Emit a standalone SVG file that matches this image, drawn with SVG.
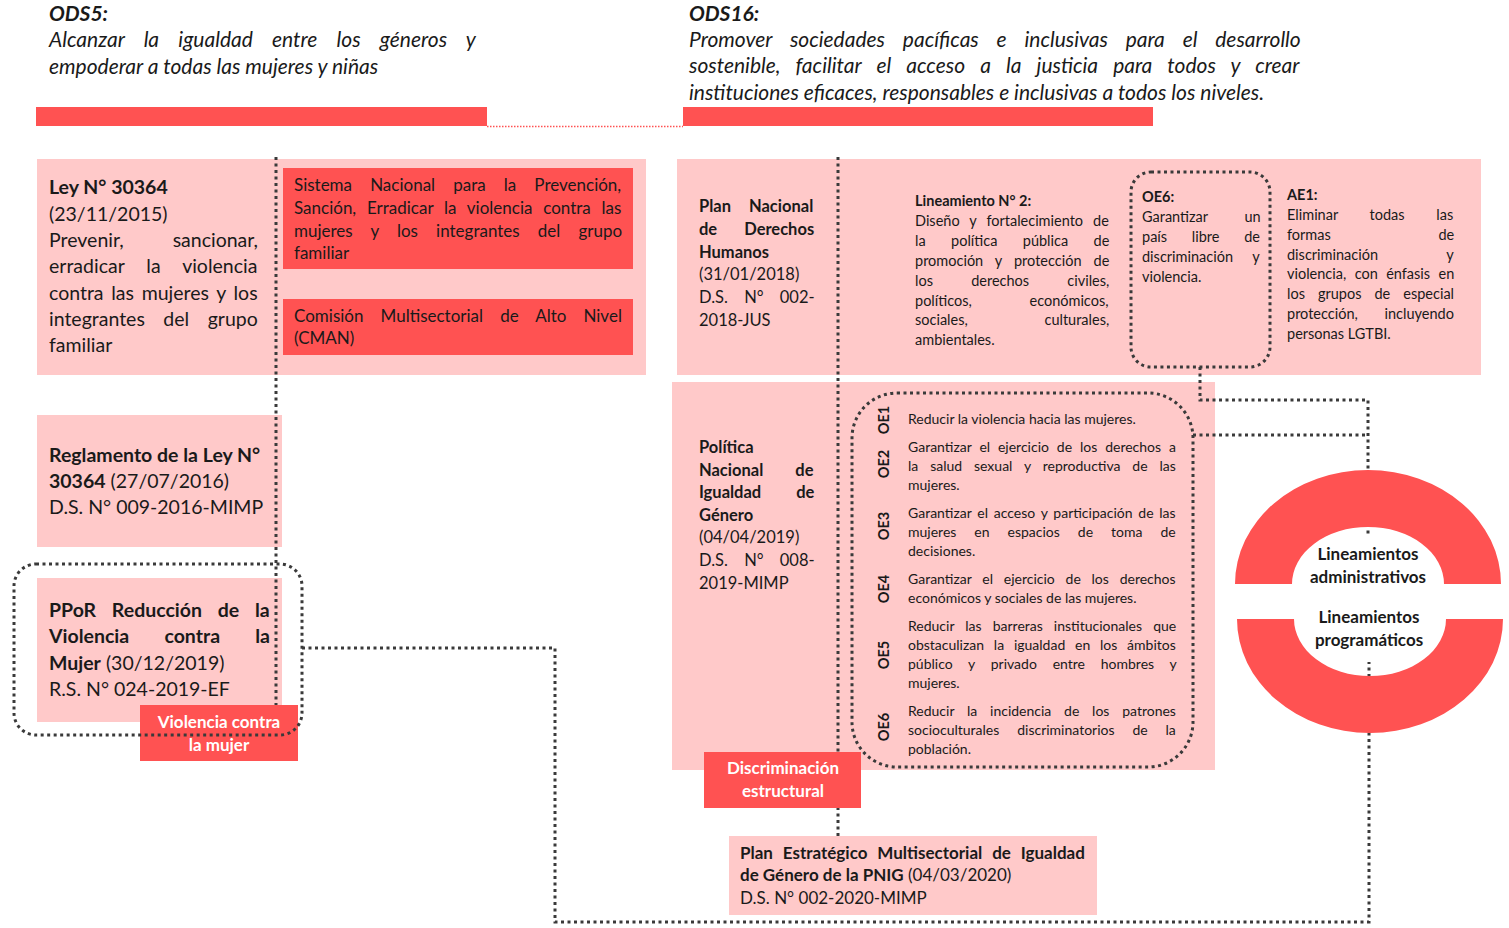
<svg xmlns="http://www.w3.org/2000/svg" width="1509" height="928" viewBox="0 0 1509 928">
<style>
text{font-family:Lato,"Open Sans","Liberation Sans",sans-serif;fill:#1a1a1a}
.b{font-weight:bold}
.h{font-size:21px;font-style:italic}
.f19{font-size:19.5px}
.f17{font-size:17px}
.f165{font-size:16.5px}
.f145{font-size:14.5px}
.f135{font-size:14px}
.lbl{font-size:17px;font-weight:bold;fill:#fff;text-anchor:middle}
.ring{font-size:17px;font-weight:bold;text-anchor:middle}
.pink{fill:#FFC9C9}
.red{fill:#FF5252}
.dot{fill:none;stroke:#3a3a3a;stroke-width:3;stroke-dasharray:3 3.5}
</style>
<g id="ods5">
<rect class="red" x="36" y="107" width="451" height="19"/>
<text class="h b" x="49" y="21">ODS5:</text>
<text class="h" x="49" y="47" word-spacing="14.3">Alcanzar la igualdad entre los géneros y</text>
<text class="h" x="49" y="74">empoderar a todas las mujeres y niñas</text>
</g>
<g id="ods16">
<rect class="red" x="683" y="107" width="470" height="19"/>
<text class="h b" x="689" y="21">ODS16:</text>
<text class="h" x="689" y="47" word-spacing="12.9">Promover sociedades pacíficas e inclusivas para el desarrollo</text>
<text class="h" x="689" y="73" word-spacing="10.2">sostenible, facilitar el acceso a la justicia para todos y crear</text>
<text class="h" x="689" y="100">instituciones eficaces, responsables e inclusivas a todos los niveles.</text>
</g>
<g id="ley30364">
<rect class="pink" x="37" y="159" width="609" height="216"/>
<text class="f19 b" x="49" y="194">Ley N° 30364</text>
<text class="f19" x="49" y="221">(23/11/2015)</text>
<text class="f19" x="49" y="247" word-spacing="44">Prevenir, sancionar,</text>
<text class="f19" x="49" y="273" word-spacing="17">erradicar la violencia</text>
<text class="f19" x="49" y="300" word-spacing="2.7">contra las mujeres y los</text>
<text class="f19" x="49" y="326" word-spacing="13.5">integrantes del grupo</text>
<text class="f19" x="49" y="352">familiar</text>
</g>
<g id="plan-ddhh">
<rect class="pink" x="677" y="159" width="804" height="216"/>
<text class="f165 b" x="699" y="212" word-spacing="14">Plan Nacional</text>
<text class="f165 b" x="699" y="235" word-spacing="23">de Derechos</text>
<text class="f165 b" x="699" y="258">Humanos</text>
<text class="f165" x="699" y="280">(31/01/2018)</text>
<text class="f165" x="699" y="303" word-spacing="12">D.S. N° 002-</text>
<text class="f165" x="699" y="326">2018-JUS</text>
</g>
<g id="lineamiento2">
<text class="f145 b" x="915" y="206">Lineamiento N° 2:</text>
<text class="f145" x="915" y="226" word-spacing="6.3">Diseño y fortalecimiento de</text>
<text class="f145" x="915" y="246" word-spacing="21.7">la política pública de</text>
<text class="f145" x="915" y="266" word-spacing="8.3">promoción y protección de</text>
<text class="f145" x="915" y="286" word-spacing="34.5">los derechos civiles,</text>
<text class="f145" x="915" y="306" word-spacing="54">políticos, económicos,</text>
<text class="f145" x="915" y="325" word-spacing="73">sociales, culturales,</text>
<text class="f145" x="915" y="345">ambientales.</text>
</g>
<g id="ae1">
<text class="f145 b" x="1287" y="200">AE1:</text>
<text class="f145" x="1287" y="220" word-spacing="28">Eliminar todas las</text>
<text class="f145" x="1287" y="240" word-spacing="104">formas de</text>
<text class="f145" x="1287" y="260" word-spacing="65">discriminación y</text>
<text class="f145" x="1287" y="279" word-spacing="4.7">violencia, con énfasis en</text>
<text class="f145" x="1287" y="299" word-spacing="9.3">los grupos de especial</text>
<text class="f145" x="1287" y="319" word-spacing="23">protección, incluyendo</text>
<text class="f145" x="1287" y="339">personas LGTBI.</text>
</g>
<g id="reglamento">
<rect class="pink" x="37" y="415" width="245" height="132"/>
<text class="f19 b" x="49" y="462">Reglamento de la Ley N°</text>
<text class="f19" x="49" y="488"><tspan class="b">30364</tspan> (27/07/2016)</text>
<text class="f19" x="49" y="514">D.S. N° 009-2016-MIMP</text>
</g>
<g id="ppor">
<rect class="pink" x="37" y="578" width="245" height="144"/>
<text class="f19 b" x="49" y="617" word-spacing="11">PPoR Reducción de la</text>
<text class="f19 b" x="49" y="643" word-spacing="30.5">Violencia contra la</text>
<text class="f19" x="49" y="670"><tspan class="b">Mujer</tspan> (30/12/2019)</text>
<text class="f19" x="49" y="696">R.S. N° 024-2019-EF</text>
</g>
<g id="politica">
<rect class="pink" x="672" y="382" width="543" height="388"/>
<text class="f165 b" x="699" y="453">Política</text>
<text class="f165 b" x="699" y="476" word-spacing="28">Nacional de</text>
<text class="f165 b" x="699" y="498" word-spacing="31">Igualdad de</text>
<text class="f165 b" x="699" y="521">Género</text>
<text class="f165" x="699" y="543">(04/04/2019)</text>
<text class="f165" x="699" y="566" word-spacing="12">D.S. N° 008-</text>
<text class="f165" x="699" y="589">2019-MIMP</text>
</g>
<g id="objetivos">
<text class="f145 b" transform="translate(889,420) rotate(-90)" text-anchor="middle">OE1</text>
<text class="f145 b" transform="translate(889,464) rotate(-90)" text-anchor="middle">OE2</text>
<text class="f145 b" transform="translate(889,526) rotate(-90)" text-anchor="middle">OE3</text>
<text class="f145 b" transform="translate(889,589) rotate(-90)" text-anchor="middle">OE4</text>
<text class="f145 b" transform="translate(889,655) rotate(-90)" text-anchor="middle">OE5</text>
<text class="f145 b" transform="translate(889,727) rotate(-90)" text-anchor="middle">OE6</text>
<text class="f135" x="908" y="424">Reducir la violencia hacia las mujeres.</text>
<text class="f135" x="908" y="452" word-spacing="4.3">Garantizar el ejercicio de los derechos a</text>
<text class="f135" x="908" y="471" word-spacing="8.3">la salud sexual y reproductiva de las</text>
<text class="f135" x="908" y="490">mujeres.</text>
<text class="f135" x="908" y="518" word-spacing="2.2">Garantizar el acceso y participación de las</text>
<text class="f135" x="908" y="537" word-spacing="14.4">mujeres en espacios de toma de</text>
<text class="f135" x="908" y="556">decisiones.</text>
<text class="f135" x="908" y="584" word-spacing="7.2">Garantizar el ejercicio de los derechos</text>
<text class="f135" x="908" y="603">económicos y sociales de las mujeres.</text>
<text class="f135" x="908" y="631" word-spacing="7.5">Reducir las barreras institucionales que</text>
<text class="f135" x="908" y="650" word-spacing="6.2">obstaculizan la igualdad en los ámbitos</text>
<text class="f135" x="908" y="669" word-spacing="12.2">público y privado entre hombres y</text>
<text class="f135" x="908" y="688">mujeres.</text>
<text class="f135" x="908" y="716" word-spacing="9.2">Reducir la incidencia de los patrones</text>
<text class="f135" x="908" y="735" word-spacing="14.3">socioculturales discriminatorios de la</text>
<text class="f135" x="908" y="754">población.</text>
</g>
<g id="plan-estrategico">
<rect class="pink" x="729" y="836" width="368" height="79"/>
<text class="f17 b" x="740" y="859" word-spacing="5.75">Plan Estratégico Multisectorial de Igualdad</text>
<text class="f17" x="740" y="881"><tspan class="b">de Género de la PNIG</tspan> (04/03/2020)</text>
<text class="f17" x="740" y="904">D.S. N° 002-2020-MIMP</text>
</g>
<g id="connectors">
<path d="M487,126.5 H683" fill="none" stroke="#FF5252" stroke-width="1.5" stroke-dasharray="1.5 1.5"/>
<path class="dot" d="M276,157 V706"/>
<path class="dot" d="M838,157 V836"/>
<path class="dot" d="M1200,367 V400 H1368 V536"/>
<path class="dot" d="M1193,435 H1368"/>
<path class="dot" d="M302,648 H555 V922 H1369 V662"/>
<rect class="dot" x="1131" y="172" width="139" height="195" rx="20"/>
<rect class="dot" x="852" y="393" width="341" height="374" rx="45"/>
</g>
<g id="sistema-nacional">
<rect class="red" x="283" y="168" width="350" height="101"/>
<text class="f17" x="294" y="191" word-spacing="13.75">Sistema Nacional para la Prevención,</text>
<text class="f17" x="294" y="214" word-spacing="6.4">Sanción, Erradicar la violencia contra las</text>
<text class="f17" x="294" y="237" word-spacing="13.8">mujeres y los integrantes del grupo</text>
<text class="f17" x="294" y="259">familiar</text>
</g>
<g id="cman">
<rect class="red" x="283" y="299" width="350" height="56"/>
<text class="f17" x="294" y="322" word-spacing="12.75">Comisión Multisectorial de Alto Nivel</text>
<text class="f17" x="294" y="344">(CMAN)</text>
</g>
<g id="oe6">
<text class="f145 b" x="1142" y="202">OE6:</text>
<text class="f145" x="1142" y="222" word-spacing="33">Garantizar un</text>
<text class="f145" x="1142" y="242" word-spacing="21">país libre de</text>
<text class="f145" x="1142" y="262" word-spacing="16">discriminación y</text>
<text class="f145" x="1142" y="282">violencia.</text>
</g>
<g id="violencia-label">
<rect class="red" x="140" y="705" width="158" height="56"/>
<text class="lbl" x="219" y="728">Violencia contra</text>
<text class="lbl" x="219" y="751">la mujer</text>
</g>
<g id="ppor-group">
<rect class="dot" x="14" y="564" width="288" height="171" rx="22"/>
</g>
<g id="discriminacion-label">
<rect class="red" x="704" y="752" width="157" height="56"/>
<text class="lbl" x="783" y="774">Discriminación</text>
<text class="lbl" x="783" y="797">estructural</text>
</g>
<g id="lineamientos-ring">
<path class="red" d="M1235,584 A133,114 0 0 1 1501,584 L1444,584 A76,57 0 0 0 1292,584 Z"/>
<path class="red" d="M1237,619 A133,114 0 0 0 1503,619 L1446,619 A76,57 0 0 1 1294,619 Z"/>
<text class="ring" x="1368" y="560">Lineamientos</text>
<text class="ring" x="1368" y="583">administrativos</text>
<text class="ring" x="1369" y="623">Lineamientos</text>
<text class="ring" x="1369" y="646">programáticos</text>
</g>
</svg>
